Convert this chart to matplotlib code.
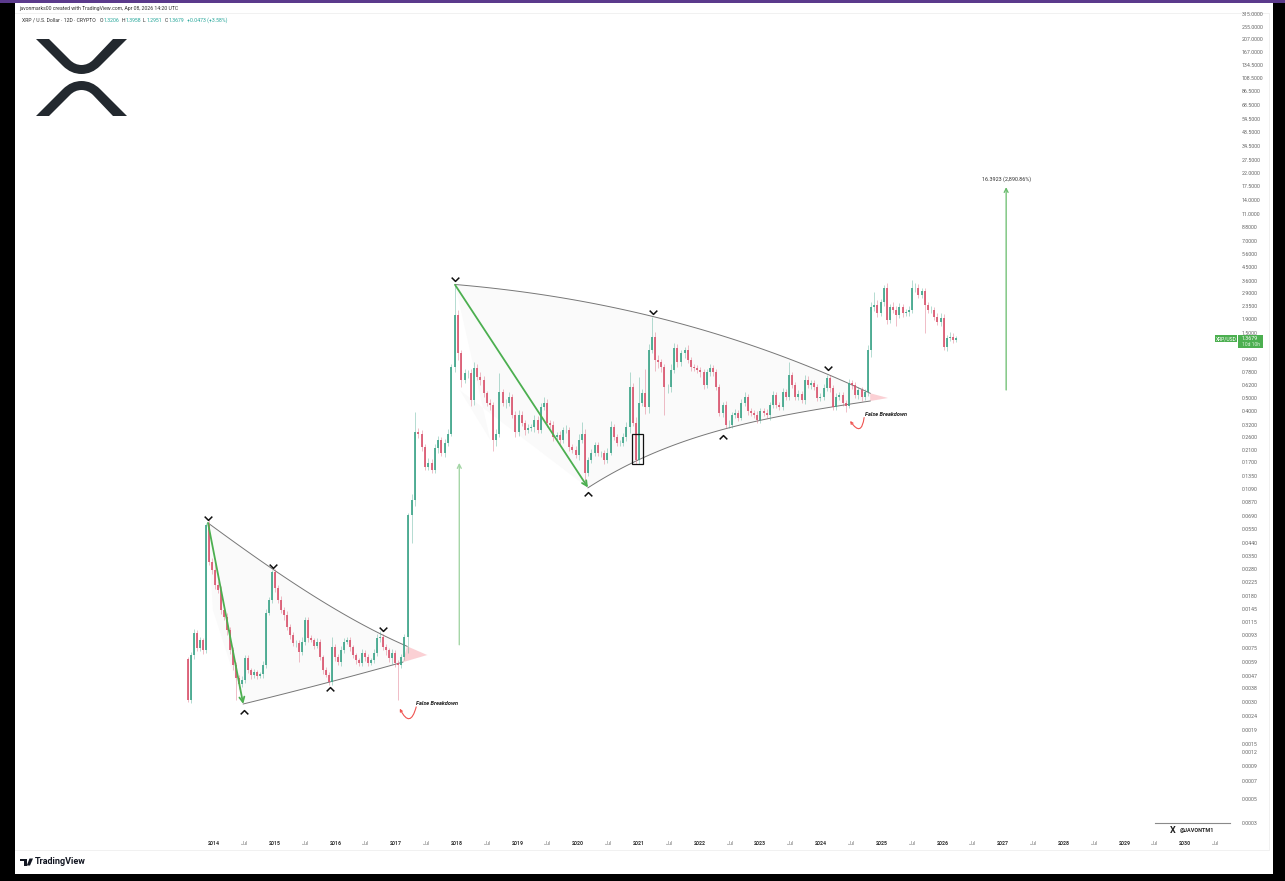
import numpy as np
import matplotlib
matplotlib.use('Agg')
import matplotlib.pyplot as plt
from matplotlib.path import Path
from matplotlib.patches import PathPatch, Rectangle, Polygon

W, H = 1285, 881

# 20 day candles, one list per stretch of the chart
closes_a = [.0031, .00662, .0096, .00745, .00855, .0072, .0592, .0319, .0278, .0215, .0198, .0142, .0125, .0101,
            .0072, .0056, .0045, .0041, .00435, .0063, .00515, .00475, .005, .0047, .0048, .0056, .0135, .0168,
            .0268, .0205, .0168, .0142, .013, .0106, .0093, .0081, .0081, .007, .0083, .012, .0088, .00855, .0078,
            .0083, .0064, .00515, .00475, .0042, .0076, .0064, .0059, .0072, .0083, .00855, .0076, .0066, .0061,
            .0058, .0069, .0064, .0058, .0061, .0069, .0088, .009, .0076, .0072, .0063, .0069, .0058, .0056, .0064,
            .009]
upper_a = [3, 6, 8, 5, 6, 4, 3, 8, 6, 10, 8, 7, 6, 8, 5, 6, 5, 6, 8, 5, 6, 4, 6, 4, 5, 8, 6, 5, 3, 6, 5, 6, 5, 7, 5, 5,
           6, 6, 8, 5, 5, 6, 4, 6, 5, 4, 6, 5, 18, 6, 5, 8, 6, 5, 6, 4, 5, 4, 6, 5, 5, 4, 6, 8, 10, 6, 6, 4, 6, 4, 5,
           6, 6]
lower_a = [3, 5, 6, 5, 4, 6, 4, 6, 8, 6, 5, 7, 5, 8, 6, 8, 45, 10, 6, 5, 4, 6, 5, 5, 4, 6, 5, 4, 5, 6, 5, 6, 8, 5, 6, 5,
           6, 18, 5, 5, 6, 4, 6, 5, 5, 6, 4, 5, 5, 6, 5, 6, 5, 4, 6, 5, 6, 5, 5, 6, 5, 4, 5, 5, 6, 5, 8, 6, 10, 6, 80,
           5, 5]

closes_b = [.07, .09, .28, .275, .22, .157, .168, .149, .215, .247, .2, .235, .275, .84]
upper_b = [3, 10, 40, 8, 6, 5, 8, 6, 8, 6, 5, 6, 8, 6]
lower_b = [30, 60, 10, 8, 8, 6, 5, 5, 6, 8, 6, 8, 6, 5]

closes_c = [2.02, 1.065, .677, .76, .76, .483, .83, .715, .677, .54, .46, .445, .247, .275, .55, .46, .46, .51, .376,
            .28, .376, .33, .292, .3, .307, .346, .292, .43, .46, .33, .318, .26, .269, .247, .292, .292, .22, .209,
            .192, .247, .275, .142, .177, .2, .227, .197, .197, .177, .2, .307, .26, .235, .235, .26, .307, .6, .33,
            .177, .46, .54, .43, 1.12, 1.4, .947, .91, .84, .6, .6, .8, 1.16, .91]
upper_c = [66, 8, 6, 8, 6, 8, 10, 6, 8, 6, 5, 6, 5, 8, 38, 6, 6, 8, 5, 6, 8, 6, 5, 8, 5, 8, 6, 6, 10, 6, 5, 6, 5, 6, 5,
           8, 6, 5, 6, 10, 22, 8, 5, 6, 5, 6, 5, 6, 8, 10, 6, 5, 5, 6, 8, 30, 8, 10, 55, 8, 50, 10, 40, 8, 8, 6, 6, 5,
           10, 8, 6]
lower_c = [8, 12, 12, 6, 8, 10, 8, 6, 8, 6, 6, 8, 20, 10, 6, 6, 8, 6, 5, 8, 6, 6, 8, 6, 5, 8, 6, 5, 6, 8, 6, 8, 6, 8, 6,
           5, 8, 6, 6, 8, 6, 22, 6, 5, 6, 5, 6, 8, 6, 5, 6, 5, 5, 6, 8, 10, 6, 8, 8, 6, 12, 10, 6, 20, 10, 8, 60, 10, 8,
           6, 8]

closes_d = [1.065, 1.12, .947, .84, .83, .8, .77, .62, .77, .83, .77, .6, .39, .445, .318, .318, .376, .39, .36, .46,
            .51, .4, .39, .376, .346, .4, .39, .376, .445, .525, .445, .43, .55, .51, .736, .62, .51, .535, .483, .677,
            .62, .64, .6, .5, .51, .59, .7, .59, .43, .51, .525, .46, .44, .64, .62, .525, .57, .51, .55, 1.12, 2.3,
            2.39, 2.1, 2.5, 3.2, 1.86, 2.3, 2.2, 2.02, 2.3, 2.1, 2.12, 2.2, 3.2, 3.2, 2.83, 3.0, 2.39, 2.2, 2.2, 1.96,
            1.8, 1.92, 1.18, 1.37, 1.4, 1.33, 1.3679]
upper_d = [6, 5, 8, 5, 6, 5, 5, 6, 5, 6, 5, 6, 6, 5, 6, 8, 5, 6, 5, 6, 8, 5, 6, 5, 6, 5, 5, 6, 5, 8, 6, 5, 8, 6, 25, 6,
           5, 6, 5, 8, 6, 5, 6, 5, 6, 8, 6, 5, 5, 6, 5, 6, 5, 8, 6, 5, 6, 5, 6, 8, 10, 25, 8, 6, 5, 8, 6, 10, 6, 8, 6,
           5, 6, 14, 8, 6, 5, 6, 5, 6, 5, 6, 8, 6, 6, 8, 6, 4]
lower_d = [6, 8, 5, 6, 6, 5, 8, 6, 5, 6, 6, 5, 6, 8, 6, 5, 6, 5, 6, 5, 5, 6, 5, 6, 5, 6, 6, 5, 8, 5, 6, 5, 5, 6, 6, 5,
           6, 6, 5, 6, 5, 6, 5, 6, 5, 6, 5, 6, 5, 6, 5, 6, 12, 5, 6, 5, 6, 8, 5, 6, 12, 6, 8, 6, 6, 8, 6, 6, 20, 6, 8,
           6, 6, 5, 8, 6, 5, 60, 6, 5, 6, 5, 8, 5, 8, 6, 5, 3]

# first and last date of each stretch, decimal years
spans = [(2013.57, 2017.13), (2017.20, 2017.91), (2017.97, 2021.63), (2021.70, 2026.23)]
first_open = .0062

price_ticks = [315, 255, 207, 167, 134.5, 108.5, 86.5, 68.5, 54.5, 43.5, 34.5, 27.5, 22, 17.5, 14, 11, 8.8, 7, 5.6,
               4.5, 3.6, 2.9, 2.35, 1.9, 1.5, .96, .78, .62, .5, .4, .32, .26, .21, .17, .135, .109, .087, .069, .055,
               .044, .035, .028, .0225, .018, .0145, .0115, .0093, .0075, .0059, .0047, .0038, .003, .0024, .0019,
               .0015, .0013, .00103, .0008, .00059, .000395]
price_labels = ['315.0000', '255.0000', '207.0000', '167.0000', '134.5000', '108.5000', '86.5000', '68.5000',
                '54.5000', '43.5000', '34.5000', '27.5000', '22.0000', '17.5000', '14.0000', '11.0000', '8.8000',
                '7.0000', '5.6000', '4.5000', '3.6000', '2.9000', '2.3500', '1.9000', '1.5000', '0.9600', '0.7800',
                '0.6200', '0.5000', '0.4000', '0.3200', '0.2600', '0.2100', '0.1700', '0.1350', '0.1090', '0.0870',
                '0.0690', '0.0550', '0.0440', '0.0350', '0.0280', '0.0225', '0.0180', '0.0145', '0.0115', '0.0093',
                '0.0075', '0.0059', '0.0047', '0.0038', '0.0030', '0.0024', '0.0019', '0.0015', '0.0012', '0.0009',
                '0.0007', '0.0005', '0.0003']
year_ticks = list(range(2014, 2031))

# trend lines as (year, price)
wedge1_top = [(2013.90, .0612), (2014.96, .0283), (2015.96, .0147), (2016.78, .0093), (2017.18, .0077)]
wedge1_bottom = [(2014.48, .00292), (2015.91, .00423), (2017.11, .0059)]
wedge1_left = [(2013.98, .0142)]
wedge1_tip = (2017.51, .00665)
wedge2_top = [(2017.97, 3.35), (2018.38, 3.29), (2019.54, 2.73), (2020.36, 2.39), (2021.23, 1.98), (2021.68, 1.76),
              (2022.50, 1.37), (2023.32, 1.03), (2024.15, .71), (2024.81, .55)]
wedge2_bottom = [(2020.16, .111), (2020.89, .165), (2021.68, .243), (2022.39, .292), (2022.80, .322), (2023.60, .395),
                 (2024.43, .445), (2024.81, .476)]
wedge2_left = [(2018.05, .57), (2018.55, .247)]
wedge2_tip = (2025.10, .5)
peaks = [(2013.90, .066), (2014.97, .0297), (2016.78, .0103), (2017.97, 3.70), (2021.23, 2.12), (2024.12, .83)]
troughs = [(2014.49, .00254), (2015.91, .00377), (2020.16, .1), (2022.39, .26)]

UP = '#3fa58a'
DOWN = '#d9566f'
GREEN = '#4caf50'

closes = np.array(closes_a + closes_b + closes_c + closes_d)
opens = np.concatenate([[first_open], closes[:-1]])
upper = np.array(upper_a + upper_b + upper_c + upper_d) / 100
lower = np.array(lower_a + lower_b + lower_c + lower_d) / 100
counts = [len(closes_a), len(closes_b), len(closes_c), len(closes_d)]
dates = np.concatenate([np.linspace(s[0], s[1], n) for s, n in zip(spans, counts)])
highs = np.maximum(opens, closes) * (1 + upper)
lows = np.minimum(opens, closes) / (1 + lower)
colors = np.where(closes >= opens, UP, DOWN)

plt.rcParams['font.family'] = ['Roboto', 'DejaVu Sans']
fig = plt.figure(figsize=(W / 100, H / 100), dpi=100, facecolor='black')

# everything that is not the chart goes on a layer in picture pixels
deco = fig.add_axes([0, 0, 1, 1], zorder=0)
deco.set_xlim(0, W)
deco.set_ylim(H, 0)
deco.axis('off')
deco.add_patch(Rectangle((15, 3), 1258, 871, fc='white', ec='none'))
deco.add_patch(Rectangle((0, 0), W, 3, fc='#5b3a8c', ec='none'))
deco.plot([15, 1269, 1269], [850, 850, 13], color='#f1f1f1', lw=.7)
deco.plot([15, 1269], [13, 13], color='#f1f1f1', lw=.7)

deco.text(19, 8.5, 'javonmarks00 created with TradingView.com, Apr 08, 2026 14:20 UTC', fontsize=3.7, color='#333333',
          va='center')
deco.text(22, 20.5, 'XRP / U.S. Dollar · 12D · CRYPTO', fontsize=3.7, color='#333333', va='center')
for x, head, value in [(100, 'O', '1.3206'), (122, 'H', '1.3958'), (143, 'L', '1.2951'), (165, 'C', '1.3679')]:
    deco.text(x, 20.5, head, fontsize=3.7, color='#333333', va='center')
    deco.text(x + 3.5, 20.5, value, fontsize=3.7, color='#26a69a', va='center')
deco.text(187, 20.5, '+0.0473 (+3.58%)', fontsize=3.7, color='#26a69a', va='center')

# XRP logo
band = [(36, 39), (49, 39), (70, 60), (75, 65), (81.5, 65), (88, 65), (93, 60), (113, 39), (127, 39), (100, 66),
        (92, 74), (81.5, 74), (71, 74), (63, 66), (36, 39)]
band_codes = [Path.MOVETO, Path.LINETO, Path.LINETO, Path.CURVE3, Path.CURVE3, Path.CURVE3, Path.CURVE3, Path.LINETO,
              Path.LINETO, Path.LINETO, Path.CURVE3, Path.CURVE3, Path.CURVE3, Path.CURVE3, Path.CLOSEPOLY]
deco.add_patch(PathPatch(Path(band, band_codes), fc='#23292f', ec='none'))
deco.add_patch(PathPatch(Path([(x, 155 - y) for x, y in band], band_codes), fc='#23292f', ec='none'))

# TradingView mark and name
deco.add_patch(Polygon([(20, 858.5), (26.5, 858.5), (26.5, 865.5), (23.5, 865.5), (23.5, 861), (20, 861)], fc='#131722',
                       ec='none'))
deco.add_patch(Polygon([(29.5, 858.5), (33, 858.5), (30, 865.5), (26.8, 865.5)], fc='#131722', ec='none'))
deco.text(35, 862, 'TradingView', fontsize=6.5, fontweight='bold', color='#131722', va='center')

# author tag bottom right
deco.plot([1155, 1230], [823, 823], color='#8a8a8a', lw=.8)
deco.text(1173, 830.5, 'X', fontsize=6.5, fontweight='bold', color='#222222', ha='center', va='center')
deco.text(1180, 830.5, '@JAVONTM1', fontsize=4, fontweight='bold', color='#222222', va='center')

# last price tags
deco.add_patch(Rectangle((1215, 335), 22, 7, fc=GREEN, ec='none'))
deco.add_patch(Rectangle((1238, 335), 25, 13, fc=GREEN, ec='none'))
deco.text(1226, 338.7, 'XRP/USD', fontsize=3.6, color='white', ha='center', va='center')
deco.text(1242, 338.7, '1.3679', fontsize=3.8, color='white', va='center')
deco.text(1242, 344.5, '10d 10h', fontsize=3.6, color='#d8f2d9', va='center')

# chart
ax = fig.add_axes([15 / W, (H - 838) / H, 1223 / W, 825 / H], zorder=1)
ax.patch.set_visible(False)
for s in ax.spines.values():
    s.set_visible(False)
ax.set_yscale('log')
ax.set_xlim(2010.72, 2030.87)
ax.set_ylim(.000307, 323)

# the drawn trend lines are arcs, so run a smooth curve through the picked points
def arc(points, deg):
    xs, ys = np.array(points).T
    fit = np.polyfit(xs, np.log(ys), deg)
    t = np.linspace(xs[0], xs[-1], 60)
    return list(zip(t, np.exp(np.polyval(fit, t))))

top1 = arc(wedge1_top, 3)
bottom1 = arc(wedge1_bottom, 2)
top2 = arc(wedge2_top, 3)
bottom2 = arc(wedge2_bottom, 4)

# wedges
def fill_wedge(top, tip, bottom, left, color='#fafafa'):
    ax.add_patch(Polygon(top + [tip] + bottom[::-1] + left, fc=color, ec='none', zorder=1))

fill_wedge(top1, wedge1_tip, bottom1, wedge1_left)
fill_wedge(top2, wedge2_tip, bottom2, wedge2_left)
ax.add_patch(Polygon([top1[-1], wedge1_tip, bottom1[-1]], fc='#fbd0d4', ec='none', zorder=1.5))
ax.add_patch(Polygon([top2[-1], wedge2_tip, bottom2[-1]], fc='#fbd0d4', ec='none', zorder=1.5))
for line in [top1, bottom1, top2, bottom2]:
    xs, ys = zip(*line)
    ax.plot(xs, ys, color='#777777', lw=.7, zorder=2)

# candles
ax.vlines(dates, lows, highs, colors=colors, lw=.6, alpha=.45, zorder=3)
ax.vlines(dates, opens, closes, colors=colors, lw=1.25, zorder=4)

# green measured moves
def arrow(start, end, color, lw, size=7):
    ax.annotate('', xy=end, xytext=start, zorder=5,
                arrowprops=dict(arrowstyle='->', color=color, lw=lw, shrinkA=0, shrinkB=0, mutation_scale=size))

arrow((2013.90, .0612), (2014.48, .00292), GREEN, 1.3, 9)
arrow((2017.97, 3.35), (2020.16, .111), GREEN, 1.3, 9)
arrow((2018.04, .0079), (2018.04, .168), '#a5d6a7', 1)
arrow((2027.05, .572), (2027.05, 17.3), '#66bb6a', .9)
ax.text(2027.06, 19.8, '16.3923 (2,890.86%)', fontsize=3.9, color='#333333', ha='center', va='center')

# highs and lows are flagged with small chevrons
chevron = Path([(-1, .5), (0, -.5), (1, .5)])
xs, ys = zip(*peaks)
ax.plot(xs, ys, ls='none', marker=chevron, ms=5.5, mfc='none', mec='#111111', mew=1.1, zorder=6)
xs, ys = zip(*troughs)
ax.plot(xs, ys, ls='none', marker=Path([(-1, -.5), (0, .5), (1, -.5)]), ms=5.5, mfc='none', mec='#111111', mew=1.1,
        zorder=6)

# box around the 2021 retest
ax.add_patch(Rectangle((2020.89, .165), .17, .11, fc='none', ec='#111111', lw=.9, zorder=6))

# false breakdown notes
for pos, start, end in [((2017.33, .00295), (2017.33, .00278), (2017.06, .0027)),
                        ((2024.72, .38), (2024.71, .36), (2024.48, .34))]:
    ax.text(pos[0], pos[1], 'False Breakdown', fontsize=4.1, fontweight='bold', fontstyle='italic', color='#222222',
            va='center')
    ax.annotate('', xy=end, xytext=start, zorder=5,
                arrowprops=dict(arrowstyle='->', color='#ef5350', lw=.8, shrinkA=0, shrinkB=0, mutation_scale=4,
                                connectionstyle='arc3,rad=-1.3'))

# axes
ax.yaxis.tick_right()
ax.set_yticks(price_ticks, price_labels)
ax.minorticks_off()
ax.tick_params(axis='y', length=0, pad=2.9, labelsize=3.8, labelcolor='#666666')

month_ticks = [y + .5 for y in year_ticks]
ax.set_xticks(year_ticks + month_ticks, [str(y) for y in year_ticks] + ['Jul'] * len(month_ticks))
ax.tick_params(axis='x', length=0, pad=2.5, labelsize=3.8, labelcolor='#777777')
for label in ax.get_xticklabels()[:len(year_ticks)]:
    label.set_fontweight('bold')
    label.set_color('#333333')

fig.savefig('out.png', dpi=100, facecolor=fig.get_facecolor())
